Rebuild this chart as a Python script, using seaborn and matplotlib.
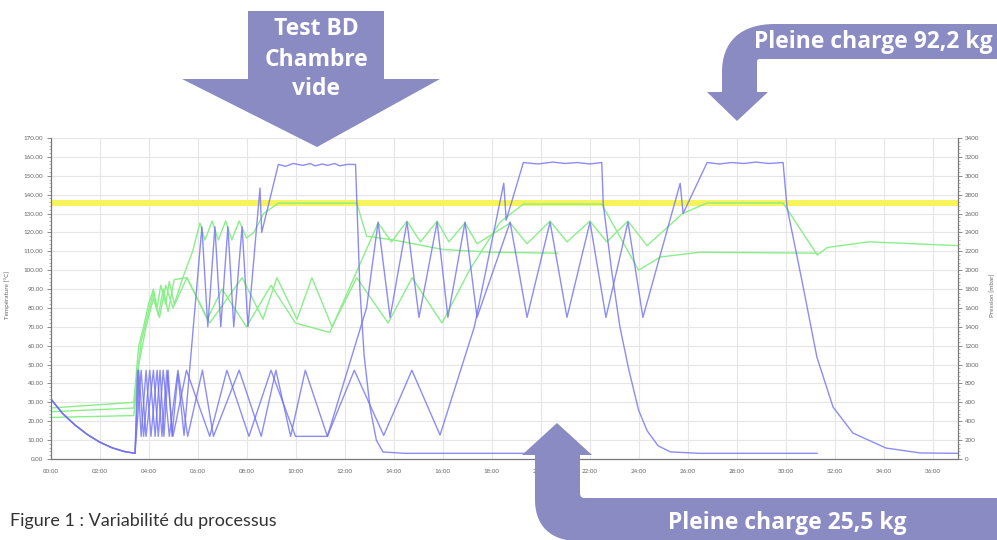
import matplotlib
matplotlib.use("Agg")
import matplotlib.pyplot as plt
import seaborn as sns
from matplotlib.patches import Polygon, PathPatch
from matplotlib.path import Path
from matplotlib.ticker import MultipleLocator, FuncFormatter

# --- data (time in hours, temperature in degC, pressure in mbar) ---
# cycle 1 : Test BD, empty chamber
t1_time = [0, 3.4, 3.5, 3.6, 3.8, 4.0, 4.2, 4.35, 4.5, 4.7, 4.85, 5.05, 5.4, 5.8, 6.1, 6.3, 6.6,
           6.85, 7.15, 7.4, 7.7, 8.0, 8.3, 8.7, 9.3, 12.5, 12.9, 14.0, 16.0, 18.0, 20.7]
t1_temp = [27, 30, 45, 60, 70, 82, 90, 80, 92, 82, 94, 82, 96, 110, 125, 116, 126,
           116, 126, 116, 126, 117, 120, 130, 135.5, 135.5, 118, 116, 111, 109.5, 109]
p1_time = [0, 0.5, 1.0, 1.5, 2.0, 2.5, 3.0, 3.45, 3.6, 3.8, 4.05, 4.27, 4.47, 4.63, 4.8, 4.96,
           5.2, 5.45, 6.18, 6.42, 6.71, 6.95, 7.24, 7.48, 7.82, 8.06, 8.55, 8.62, 9.3, 9.6, 9.9,
           10.3, 10.6, 10.8, 11.1, 11.3, 11.6, 11.8, 12.1, 12.45, 12.63, 12.8, 13.04, 13.3, 13.57,
           14.5, 20.7]
p1_pres = [640, 480, 360, 260, 180, 120, 80, 60, 940, 240, 940, 240, 940, 240, 940, 240,
           900, 250, 2460, 1400, 2460, 1400, 2460, 1400, 2460, 1400, 2870, 2400, 3120, 3100, 3130,
           3110, 3130, 3105, 3125, 3110, 3130, 3105, 3120, 3120, 1790, 1100, 550, 200, 74,
           60, 60]

# cycle 2 : full load 25.5 kg
t2_time = [0, 3.4, 3.55, 3.7, 4.0, 4.2, 4.4, 4.6, 4.8, 5.05, 5.57, 6.5, 7.82, 8.67, 9.24, 10.06,
           10.67, 11.49, 12.5, 13.78, 14.76, 15.98, 17.1, 18.35, 19.3, 22.5, 24.0, 24.9, 26.5, 31.3]
t2_temp = [25, 27, 45, 62, 78, 88, 76, 90, 78, 95, 96, 72, 96, 74, 96, 74,
           96, 70, 96, 72, 96, 72, 100, 125.5, 135, 135, 100, 107, 109.5, 109]
p2_time = [0, 0.5, 1.0, 1.5, 2.0, 2.5, 3.0, 3.45, 3.7, 3.9, 4.2, 4.4, 4.6, 4.85, 5.2, 5.6,
           6.2, 6.65, 7.7, 8.6, 9.2, 9.8, 10.4, 11.3, 12.4, 13.6, 14.75, 15.9, 17.3, 18.5, 18.6,
           19.3, 19.9, 20.5, 21.0, 21.5, 22.0, 22.5, 22.56, 22.9, 23.24, 23.6, 24.0, 24.35, 24.8,
           25.3, 26.5, 31.3]
p2_pres = [640, 480, 360, 260, 180, 120, 80, 60, 940, 240, 940, 240, 940, 240, 940, 240,
           940, 240, 940, 240, 940, 240, 940, 240, 940, 250, 940, 254, 1400, 2920, 2530,
           3140, 3125, 3145, 3130, 3140, 3125, 3140, 2700, 2000, 1400, 950, 520, 300, 140,
           75, 60, 60]

# cycle 3 : full load 92.2 kg
t3_time = [0, 3.4, 3.6, 3.9, 4.2, 4.45, 4.7, 5.0, 5.57, 6.4, 7.0, 8.0, 9.0, 10.0, 11.4, 13.37,
           13.92, 14.55, 15.1, 15.78, 16.26, 16.92, 17.41, 18.76, 19.45, 20.39, 21.08, 22.02,
           22.7, 23.57, 24.35, 25.8, 26.8, 29.9, 31.3, 31.7, 33.4, 37.04]
t3_temp = [22, 23, 50, 70, 85, 75, 92, 80, 96, 74, 90, 70, 92, 72, 67, 125,
           115, 126, 115, 126, 115, 125, 114, 125, 114, 126, 115, 126,
           115, 126, 113, 130, 135.6, 135.6, 108, 112, 115, 113]
p3_time = [0, 0.5, 1.0, 1.5, 2.0, 2.5, 3.0, 3.45, 3.55, 3.7, 3.9, 4.1, 4.35, 4.55, 4.75, 5.0,
           5.55, 6.5, 7.2, 8.1, 9.0, 10.0, 11.3, 12.9, 13.37, 13.86, 14.55, 15.04, 15.78, 16.22,
           16.92, 17.41, 18.76, 19.45, 20.39, 21.08, 22.02, 22.67, 23.57, 24.18, 25.7, 25.82,
           26.8, 27.3, 27.8, 28.3, 28.8, 29.3, 29.9, 30.06, 30.7, 31.28, 31.94, 32.75, 34.1,
           35.5, 37.04]
p3_pres = [640, 480, 360, 260, 180, 120, 80, 60, 940, 240, 940, 240, 940, 240, 940, 240,
           940, 240, 940, 240, 940, 240, 240, 1600, 2510, 1500, 2510, 1500, 2510, 1500,
           2510, 1500, 2510, 1500, 2510, 1500, 2510, 1500, 2510, 1500, 2920, 2600,
           3140, 3125, 3140, 3130, 3145, 3130, 3140, 2670, 1850, 1080, 550, 275, 116,
           64, 60]

band_low, band_high = 133.8, 137.2
x_ticks = list(range(0, 38, 2))
x_labels = [f"{h:02d}:00" for h in x_ticks]

GREEN = "#8aee8a"
BLUE = "#7070f2"
ARROW = "#8b8bc3"

sns.set_style("white")
plt.rcParams["font.family"] = ["Lato", "DejaVu Sans"]

fig = plt.figure(figsize=(9.97, 5.40), dpi=100)
W, H = 997, 540
ax = fig.add_axes([50.5 / W, 81 / H, (958 - 50.5) / W, 321 / H])
ax2 = ax.twinx()

ax.axhspan(band_low, band_high, color="#f7f35a", lw=0, zorder=1)

for tt, yy in [(t1_time, t1_temp), (t2_time, t2_temp), (t3_time, t3_temp)]:
    sns.lineplot(x=tt, y=yy, ax=ax, color=GREEN, lw=1.0, estimator=None, sort=False, zorder=3)
for tt, yy in [(p1_time, p1_pres), (p2_time, p2_pres), (p3_time, p3_pres)]:
    sns.lineplot(x=tt, y=yy, ax=ax2, color=BLUE, lw=1.0, alpha=0.8, estimator=None, sort=False)

ax.set_xlim(0, 37.04)
ax.set_ylim(0, 170)
ax2.set_ylim(0, 3400)
ax.set_xticks(x_ticks)
ax.set_xticklabels(x_labels)
ax.xaxis.set_minor_locator(MultipleLocator(0.4))
ax.yaxis.set_major_locator(MultipleLocator(10))
ax.yaxis.set_minor_locator(MultipleLocator(2))
ax.yaxis.set_major_formatter(FuncFormatter(lambda v, p: f"{v:.2f}"))
ax2.yaxis.set_major_locator(MultipleLocator(200))
ax2.yaxis.set_minor_locator(MultipleLocator(40))
ax2.yaxis.set_major_formatter(FuncFormatter(lambda v, p: f"{v:.0f}"))

ax.grid(True, which="major", color="#e6e6e6", lw=0.8)
ax.set_axisbelow(True)
for a in (ax, ax2):
    a.spines["top"].set_visible(False)
    for s in ("left", "right", "bottom"):
        a.spines[s].set_color("#777777")
        a.spines[s].set_linewidth(0.8)
    a.tick_params(which="major", length=3, width=0.6, color="#777777", labelsize=4.5,
                  labelcolor="#666666", pad=2)
    a.tick_params(which="minor", length=1.5, width=0.5, color="#999999")
ax.tick_params(axis="x", pad=4)

ax.set_xlabel("")
ax.set_ylabel("Température [°C]", fontsize=4.5, color="#666666")
ax.yaxis.set_label_coords(-0.045, 0.51)
ax2.set_ylabel("Pression [mbar]", fontsize=4.5, color="#666666", rotation=90)
ax2.yaxis.set_label_coords(1.035, 0.51)

# --- overlay for the callout arrows (pixel coordinates, origin top-left) ---
ov = fig.add_axes([0, 0, 1, 1], zorder=10)
ov.set_xlim(0, W)
ov.set_ylim(H, 0)
ov.axis("off")

bold = dict(color="white", fontsize=16.5, fontweight="bold", family="Open Sans", ha="center",
            va="baseline")

ov.add_patch(Polygon([(248, 11), (384, 11), (384, 79), (440, 79), (317, 147), (182, 79), (248, 79)],
                     closed=True, color=ARROW, lw=0))
ov.text(316, 35, "Test BD", **bold)
ov.text(316, 66, "Chambre", **bold)
ov.text(316, 95, "vide", **bold)

M, L, C, Z = Path.MOVETO, Path.LINETO, Path.CURVE4, Path.CLOSEPOLY
verts = [(998, 24), (775, 24), (740, 24), (722, 42), (722, 72), (722, 92), (707, 92), (737, 121),
         (768, 92), (757, 92), (757, 64), (757, 59), (757, 59), (762, 59), (998, 59), (998, 24)]
codes = [M, L, C, C, C, L, L, L, L, L, L, C, C, C, L, Z]
ov.add_patch(PathPatch(Path(verts, codes), color=ARROW, lw=0))
ov.text(873, 48, "Pleine charge 92,2 kg", **bold)

verts = [(998, 498), (585, 498), (582, 498), (580, 497), (580, 493), (580, 455), (592, 455),
         (557, 423), (522, 455), (535, 455), (535, 500), (535, 525), (550, 541), (578, 541),
         (998, 541), (998, 498)]
codes = [M, L, C, C, C, L, L, L, L, L, L, C, C, C, L, Z]
ov.add_patch(PathPatch(Path(verts, codes), color=ARROW, lw=0))
ov.text(787, 529, "Pleine charge 25,5 kg", **bold)

ov.text(10, 521, "Figure 1 : Variabilité du processus", color="#333333", fontsize=13,
        ha="left", va="center")

fig.savefig("out.png", dpi=100)
